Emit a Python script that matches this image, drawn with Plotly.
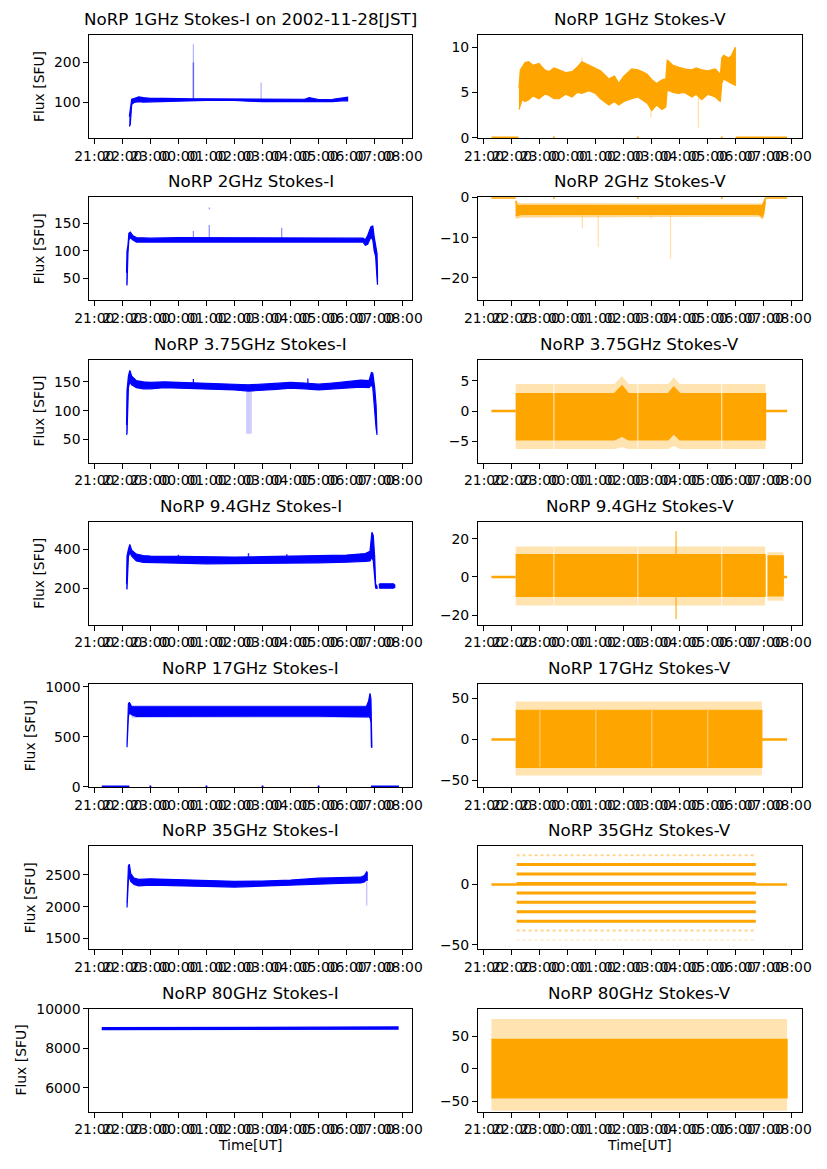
import plotly.graph_objects as go

BLUE = "#0000ff"
ORANGE = "#ffa500"

# ---------------- data (times are UT, HH:MM) ----------------
# 1 GHz
i1_t = ["22:15", "22:17", "22:20", "22:25", "22:35", "22:45", "23:00", "23:30", "00:00", "00:30", "01:00",
        "02:00", "02:30", "03:00", "03:30", "04:00", "04:30", "04:40", "05:00", "05:30", "05:50", "06:02"]
i1_lo = [40, 45, 95, 100, 102, 101, 102, 103, 104, 104, 105, 105, 103, 102, 102, 102, 101, 102, 102, 102, 104, 104]
i1_hi = [65, 90, 108, 110, 114, 112, 110, 110, 109, 109, 109, 109, 108, 108, 108, 108, 108, 112, 107, 108, 112, 113]
i1_spk_t = ["00:32", "00:32", "02:57"]
i1_spk_lo = [108, 200, 108]
i1_spk_hi = [200, 245, 150]

v1_t = ["22:15", "22:18", "22:22", "22:28", "22:36", "22:45", "22:58", "23:10", "23:19", "23:30", "23:41",
        "23:55", "00:09", "00:20", "00:30", "00:45", "00:59", "01:10", "01:28", "01:40", "01:49", "02:00",
        "02:17", "02:30", "02:39", "02:50", "03:00", "03:10", "03:22", "03:30", "03:33", "03:45", "03:57",
        "04:10", "04:26", "04:35", "04:47", "05:00", "05:16", "05:27", "05:30", "05:34", "05:45", "05:51", "05:59"]
v1_lo = [3.1, 3.5, 4.2, 4.0, 4.2, 4.6, 4.3, 4.8, 4.7, 4.3, 4.3,
         4.8, 4.5, 5.0, 4.9, 5.2, 4.9, 4.3, 3.6, 4.0, 3.6, 4.0,
         4.3, 4.5, 4.2, 3.8, 3.0, 3.6, 3.1, 3.4, 5.3, 5.0, 4.9,
         5.0, 4.5, 4.8, 4.2, 4.8, 4.5, 4.0, 6.0, 6.5, 6.2, 6.0, 5.8]
v1_hi = [5.5, 7.5, 7.8, 8.3, 8.4, 8.0, 8.2, 7.5, 7.3, 7.7, 7.5,
         7.2, 7.3, 7.8, 8.4, 8.0, 7.6, 7.4, 6.5, 6.8, 6.0, 6.8,
         7.6, 7.5, 7.3, 7.0, 6.4, 6.0, 6.4, 6.5, 8.6, 8.0, 7.8,
         7.6, 7.5, 7.7, 7.5, 7.4, 7.6, 7.0, 8.8, 9.1, 8.8, 9.1, 10.0]
v1_zero = [("21:16", "22:14"), ("23:28", "23:32"), ("02:28", "02:32"), ("05:28", "05:32"), ("06:00", "07:50")]
v1_spk_t = ["02:58", "04:40", "00:30"]
v1_spk_lo = [2.2, 1.1, 7.5]
v1_spk_hi = [4.0, 4.5, 8.9]

# 2 GHz
i2_t = ["22:09", "22:10", "22:12", "22:14", "22:17", "22:22", "22:30", "23:00", "00:00", "01:00", "02:00",
        "03:00", "04:00", "05:00", "06:00", "06:35", "06:40", "06:45", "06:52", "06:56", "06:59", "07:02",
        "07:05", "07:06"]
i2_lo = [38, 38, 95, 120, 124, 120, 116, 116, 117, 117, 116, 116, 116, 116, 116, 116, 110, 112, 125, 120, 100, 90, 50, 38]
i2_hi = [60, 100, 110, 132, 134, 128, 124, 123, 124, 124, 123, 123, 124, 123, 123, 123, 120, 128, 144, 145, 125, 110, 95, 60]
i2_spk_t = ["00:32", "01:06", "01:06", "03:41"]
i2_spk_lo = [122, 122, 176, 122]
i2_spk_hi = [136, 147, 179, 142]

v2_t = ["22:08", "22:11", "22:20", "06:50", "06:57", "07:00", "07:03"]
v2_lo = [-4.6, -4.4, -4.2, -4.2, -4.8, -4.0, -1.5]
v2_hi = [-0.8, -2.0, -2.0, -2.0, -2.0, -1.2, -0.2]
v2_out_lo = [-5.2, -5.3, -5.0, -4.8, -5.5, -5.0, -2.0]
v2_out_hi = [-0.3, -1.2, -1.4, -1.4, -1.5, -0.8, 0.0]
v2_zero = [("21:16", "22:08"), ("23:28", "23:32"), ("02:28", "02:32"), ("05:28", "05:32"), ("07:03", "07:50")]
v2_spk_t = ["00:31", "01:05", "03:40", "02:58"]
v2_spk_lo = [-7.7, -12.3, -15.2, -5.3]
v2_spk_hi = [-4.5, -4.5, -4.5, -4.5]

# 3.75 GHz
i3_t = ["22:09", "22:10", "22:13", "22:16", "22:20", "22:30", "22:45", "23:00", "23:30", "00:00", "00:30",
        "01:00", "01:30", "02:00", "02:30", "03:00", "03:30", "04:00", "04:30", "05:00", "05:30", "06:00",
        "06:30", "06:48", "06:53", "06:56", "07:00", "07:03", "07:05"]
i3_lo = [58, 60, 140, 150, 145, 140, 138, 138, 140, 140, 139, 138, 137, 136, 134, 135, 137, 139, 138, 136,
         137, 139, 141, 140, 145, 140, 100, 70, 58]
i3_hi = [75, 135, 160, 170, 160, 152, 150, 149, 150, 149, 148, 147, 147, 146, 145, 146, 148, 149, 148, 146,
         148, 150, 153, 152, 166, 165, 140, 110, 75]
i3_spk_t = ["02:26", "02:28", "02:30", "02:32", "02:34", "02:36", "00:32", "04:37"]
i3_spk_lo = [60, 60, 60, 60, 60, 60, 145, 145]
i3_spk_hi = [134, 134, 134, 134, 134, 134, 155, 156]

v3_t = ["22:08", "01:40", "01:56", "02:10", "03:35", "03:47", "04:00", "07:04"]
v3_lo = [-4.8, -4.8, -4.2, -4.8, -4.8, -3.8, -4.8, -4.8]
v3_hi = [2.9, 2.9, 4.2, 2.9, 2.9, 4.0, 2.9, 2.9]
v3_out_lo = [-6.3, -6.3, -6.0, -6.3, -6.3, -5.8, -6.3, -6.3]
v3_out_hi = [4.5, 4.5, 5.8, 4.5, 4.5, 5.6, 4.5, 4.5]
v3_zero = [("21:16", "22:08"), ("07:04", "07:50")]
v3_gaps = ["23:30", "02:30", "05:30"]

# 9.4 GHz
i4_t = ["22:09", "22:10", "22:13", "22:16", "22:20", "22:30", "22:45", "23:00", "00:00", "01:00", "02:00",
        "03:00", "04:00", "05:00", "06:00", "06:40", "06:50", "06:54", "06:57", "07:00", "07:02", "07:05"]
i4_lo = [195, 195, 360, 385, 365, 340, 332, 330, 328, 325, 325, 326, 328, 330, 333, 338, 340, 360, 340, 250, 200, 198]
i4_hi = [220, 365, 400, 425, 395, 375, 368, 365, 363, 360, 360, 362, 364, 366, 370, 378, 390, 488, 470, 360, 220, 210]
i4b_t = ["07:09", "07:11", "07:40", "07:43"]
i4b_lo = [203, 199, 199, 203]
i4b_hi = [215, 222, 222, 215]
i4_spk_t = ["00:00", "00:32", "01:06", "02:30", "03:52"]
i4_spk_lo = [340, 340, 340, 340, 345]
i4_spk_hi = [372, 362, 360, 380, 375]

v4_t = ["22:08", "07:03"]
v4_lo = [-10.2, -10.2]
v4_hi = [11.7, 11.7]
v4_out_lo = [-15.0, -15.0]
v4_out_hi = [16.0, 16.0]
v4b_t = ["07:08", "07:42"]
v4b_lo = [-10.0, -10.0]
v4b_hi = [11.0, 11.0]
v4b_out_lo = [-12.5, -12.5]
v4b_out_hi = [13.0, 13.0]
v4_zero = [("21:16", "22:08"), ("07:42", "07:50")]
v4_gaps = ["23:30", "02:30", "05:30"]
v4_spk_t = ["03:52"]
v4_spk_lo = [-22.0]
v4_spk_hi = [24.0]

# 17 GHz
i5_t = ["22:10", "22:11", "22:13", "22:15", "22:20", "22:30", "23:00", "01:00", "03:00", "05:00", "06:00",
        "06:42", "06:47", "06:50", "06:52", "06:53", "06:54"]
i5_lo = [395, 395, 700, 740, 720, 705, 705, 708, 708, 708, 705, 700, 700, 690, 650, 400, 390]
i5_hi = [420, 700, 830, 845, 800, 800, 800, 803, 805, 805, 800, 800, 860, 935, 880, 700, 420]
i5_out_t = ["22:20", "06:45"]
i5_out_lo = [690, 690]
i5_out_hi = [815, 815]
i5_zero = [("21:16", "22:15"), ("22:58", "23:02"), ("00:58", "01:02"), ("02:58", "03:02"), ("04:58", "05:02"),
           ("06:52", "07:52")]

v5_t = ["22:08", "06:56"]
v5_lo = [-34.0, -34.0]
v5_hi = [35.5, 35.5]
v5_out_lo = [-44.0, -44.0]
v5_out_hi = [46.0, 46.0]
v5_zero = [("21:16", "22:08"), ("06:56", "07:50")]
v5_gaps = ["23:00", "01:00", "03:00", "05:00"]

# 35 GHz
i6_t = ["22:10", "22:11", "22:13", "22:15", "22:18", "22:25", "22:35", "23:00", "00:00", "01:00", "02:00",
        "03:00", "04:00", "05:00", "06:00", "06:30", "06:38", "06:43", "06:44"]
i6_lo = [1990, 2000, 2420, 2480, 2400, 2350, 2330, 2340, 2335, 2320, 2310, 2315, 2330, 2355, 2370, 2375, 2390, 2430, 2410]
i6_hi = [2050, 2440, 2640, 2670, 2520, 2450, 2430, 2440, 2430, 2415, 2400, 2405, 2420, 2450, 2465, 2465, 2490, 2550, 2540]
i6_spk_t = ["06:43"]
i6_spk_lo = [2020]
i6_spk_hi = [2400]

v6_span = ("22:10", "06:43")
v6_levels_dense = [16.6, 8.7, 0.9, -6.9, -14.7, -22.5, -30.3]
v6_levels_sparse = [24.3, -38.1]
v6_levels_rare = [-45.9]
v6_zero = [("21:16", "07:50")]

# 80 GHz
i7_t = ["21:16", "06:40", "06:50", "07:50"]
i7_lo = [8950, 8950, 8975, 8975]
i7_hi = [9050, 9050, 9085, 9085]

v7_t = ["21:16", "07:50"]
v7_lo = [-45.0, -45.0]
v7_hi = [45.0, 45.0]
v7_out_lo = [-65.0, -65.0]
v7_out_hi = [76.0, 76.0]

titles = ["NoRP 1GHz Stokes-I on 2002-11-28[JST]", "NoRP 1GHz Stokes-V",
          "NoRP 2GHz Stokes-I", "NoRP 2GHz Stokes-V",
          "NoRP 3.75GHz Stokes-I", "NoRP 3.75GHz Stokes-V",
          "NoRP 9.4GHz Stokes-I", "NoRP 9.4GHz Stokes-V",
          "NoRP 17GHz Stokes-I", "NoRP 17GHz Stokes-V",
          "NoRP 35GHz Stokes-I", "NoRP 35GHz Stokes-V",
          "NoRP 80GHz Stokes-I", "NoRP 80GHz Stokes-V"]
y_ranges = [[11.5, 268], [-0.04, 11.35], [9.7, 197.6], [-25.6, 0.06], [10.1, 188.8], [-8.55, 8.55],
            [10, 542], [-25.1, 28.9], [-5, 1027], [-58.2, 67.2], [1332, 2951], [-53.6, 31.7],
            [4800, 10020], [-66, 92.3]]
y_dticks = [100, 5, 50, 10, 50, 5, 200, 20, 500, 50, 500, 50, 2000, 50]
ylabel = "Flux [SFU]"
xlabel = "Time[UT]"

# ---------------- figure ----------------
# The page body has an 8 px margin, so the figure is drawn 8 px smaller and
# every position is given relative to the figure's own top-left corner.
OFF = 8
W, H = 827 - OFF, 1169 - OFF
LEFT = (89.3 - OFF, 412.3 - OFF)
RIGHT = (478.0 - OFF, 801.7 - OFF)
TOPS = [v - OFF for v in [35, 197.3, 359.5, 521.8, 684.2, 846.3, 1008.5]]
PH = 103
FONT = "DejaVu Sans"


def T(s):
    h, m = (int(v) for v in s.split(":"))
    day = 27 if h >= 12 else 28
    return f"2002-11-{day:02d} {h:02d}:{m:02d}:00"


def xa(k):
    return "x" if k == 0 else f"x{k + 1}"


def ya(k):
    return "y" if k == 0 else f"y{k + 1}"


fig = go.Figure()


def band(k, ts, lo, hi, color, opacity=1.0, lw=1.2):
    pts = list(zip(ts, lo, hi, strict=True))
    x = [T(p[0]) for p in pts] + [T(p[0]) for p in pts[::-1]]
    y = [p[2] for p in pts] + [p[1] for p in pts[::-1]]
    fig.add_trace(go.Scatter(x=x, y=y, mode="lines", fill="toself", fillcolor=color,
                             line=dict(color=color, width=lw), opacity=opacity,
                             xaxis=xa(k), yaxis=ya(k), hoverinfo="skip", showlegend=False))


def vlines(k, ts, lo, hi, color, opacity=1.0, width=1.2):
    x, y = [], []
    for t, a, b in zip(ts, lo, hi, strict=True):
        x += [T(t), T(t), None]
        y += [a, b, None]
    fig.add_trace(go.Scatter(x=x, y=y, mode="lines", line=dict(color=color, width=width),
                             opacity=opacity, xaxis=xa(k), yaxis=ya(k), hoverinfo="skip",
                             showlegend=False))


def hlines(k, segs, level, color, width=2.5, opacity=1.0, dash="solid"):
    x, y = [], []
    for a, b in segs:
        x += [T(a), T(b), None]
        y += [level, level, None]
    fig.add_trace(go.Scatter(x=x, y=y, mode="lines", line=dict(color=color, width=width, dash=dash),
                             opacity=opacity, xaxis=xa(k), yaxis=ya(k), hoverinfo="skip",
                             showlegend=False))


# 1 GHz
band(0, i1_t, i1_lo, i1_hi, BLUE)
vlines(0, i1_spk_t[:1], i1_spk_lo[:1], i1_spk_hi[:1], BLUE, 0.6, 1.5)
vlines(0, i1_spk_t[1:], i1_spk_lo[1:], i1_spk_hi[1:], BLUE, 0.3, 1.2)
hlines(1, v1_zero, 0, ORANGE)
band(1, v1_t, v1_lo, v1_hi, ORANGE)
vlines(1, v1_spk_t, v1_spk_lo, v1_spk_hi, ORANGE, 0.35, 1.2)

# 2 GHz
band(2, i2_t, i2_lo, i2_hi, BLUE)
vlines(2, i2_spk_t, i2_spk_lo, i2_spk_hi, BLUE, 0.45, 1.2)
hlines(3, v2_zero, 0, ORANGE)
band(3, v2_t, v2_out_lo, v2_out_hi, ORANGE, 0.45, 0)
band(3, v2_t, v2_lo, v2_hi, ORANGE)
vlines(3, v2_spk_t, v2_spk_lo, v2_spk_hi, ORANGE, 0.35, 1.2)

# 3.75 GHz
band(4, i3_t, i3_lo, i3_hi, BLUE)
vlines(4, i3_spk_t[:6], i3_spk_lo[:6], i3_spk_hi[:6], BLUE, 0.2, 1.0)
vlines(4, i3_spk_t[6:], i3_spk_lo[6:], i3_spk_hi[6:], BLUE, 1.0, 1.2)
hlines(5, v3_zero, 0, ORANGE)
band(5, v3_t, v3_out_lo, v3_out_hi, ORANGE, 0.3, 0)
band(5, v3_t, v3_lo, v3_hi, ORANGE)
vlines(5, v3_gaps, [-6.3] * len(v3_gaps), [4.5] * len(v3_gaps), "white", 0.8, 1.0)

# 9.4 GHz
band(6, i4_t, i4_lo, i4_hi, BLUE)
band(6, i4b_t, i4b_lo, i4b_hi, BLUE)
vlines(6, i4_spk_t, i4_spk_lo, i4_spk_hi, BLUE, 0.8, 1.5)
hlines(7, v4_zero, 0, ORANGE)
band(7, v4_t, v4_out_lo, v4_out_hi, ORANGE, 0.3, 0)
band(7, v4_t, v4_lo, v4_hi, ORANGE)
band(7, v4b_t, v4b_out_lo, v4b_out_hi, ORANGE, 0.3, 0)
band(7, v4b_t, v4b_lo, v4b_hi, ORANGE)
vlines(7, v4_gaps, [-15] * len(v4_gaps), [16] * len(v4_gaps), "white", 0.7, 1.0)
vlines(7, v4_spk_t, v4_spk_lo, v4_spk_hi, ORANGE, 0.7, 1.5)

# 17 GHz
hlines(8, i5_zero, 0, BLUE)
band(8, i5_out_t, i5_out_lo, i5_out_hi, BLUE, 0.25, 0)
band(8, i5_t, i5_lo, i5_hi, BLUE)
hlines(9, v5_zero, 0, ORANGE)
band(9, v5_t, v5_out_lo, v5_out_hi, ORANGE, 0.3, 0)
band(9, v5_t, v5_lo, v5_hi, ORANGE)
vlines(9, v5_gaps, [-34] * len(v5_gaps), [35.5] * len(v5_gaps), "white", 0.5, 1.0)

# 35 GHz
band(10, i6_t, i6_lo, i6_hi, BLUE)
vlines(10, i6_spk_t, i6_spk_lo, i6_spk_hi, BLUE, 0.25, 1.2)
hlines(11, v6_zero, 0, ORANGE, 2.5)
for lv in v6_levels_dense:
    hlines(11, [v6_span], lv, ORANGE, 3.0)
for lv in v6_levels_sparse:
    hlines(11, [v6_span], lv, ORANGE, 2.0, 0.45, "dot")
for lv in v6_levels_rare:
    hlines(11, [v6_span], lv, ORANGE, 1.5, 0.2, "dot")

# 80 GHz
band(12, i7_t, i7_lo, i7_hi, BLUE)
band(13, v7_t, v7_out_lo, v7_out_hi, ORANGE, 0.3, 0)
band(13, v7_t, v7_lo, v7_hi, ORANGE)

# ---------------- axes ----------------
axis_common = dict(showline=True, linecolor="black", linewidth=1, mirror=True, showgrid=False,
                   zeroline=False, ticks="outside", ticklen=5, tickwidth=1, tickcolor="black",
                   automargin=False,
                   tickfont=dict(family=FONT, size=13.9, color="black"))
annotations = []
for k in range(14):
    r, c = divmod(k, 2)
    x0, x1 = LEFT if c == 0 else RIGHT
    top = TOPS[r]
    xdom = [x0 / W, x1 / W]
    ydom = [1 - (top + PH) / H, 1 - top / H]
    xr = (["2002-11-27 20:49:18", "2002-11-28 08:20:30"] if c == 0
          else ["2002-11-27 20:47:12", "2002-11-28 08:21:24"])
    xaxis = dict(axis_common, domain=xdom, anchor=ya(k), type="date", range=xr,
                 tickformat="%H:%M", tick0="2002-11-27 21:00:00", dtick=3600000, tickangle=0)
    yaxis = dict(axis_common, domain=ydom, anchor=xa(k), range=y_ranges[k], tickmode="linear",
                 tick0=0, dtick=y_dticks[k], tickformat="d")
    if c == 0:
        yaxis["title"] = dict(text=ylabel, font=dict(family=FONT, size=13.9, color="black"), standoff=6)
    if r == 6:
        xaxis["title"] = dict(text=xlabel, font=dict(family=FONT, size=13.9, color="black"), standoff=4)
    key = "" if k == 0 else str(k + 1)
    fig.layout["xaxis" + key] = xaxis
    fig.layout["yaxis" + key] = yaxis
    annotations.append(dict(text=titles[k], xref="paper", yref="paper", x=(xdom[0] + xdom[1]) / 2,
                            y=ydom[1], yanchor="bottom", xanchor="center", yshift=4, showarrow=False,
                            font=dict(family=FONT, size=16.7, color="black")))

fig.update_layout(width=W, height=H, margin=dict(l=0, r=0, t=0, b=0), paper_bgcolor="white",
                  plot_bgcolor="white", showlegend=False, annotations=annotations,
                  font=dict(family=FONT, color="black"))

fig.write_html("out.html")
